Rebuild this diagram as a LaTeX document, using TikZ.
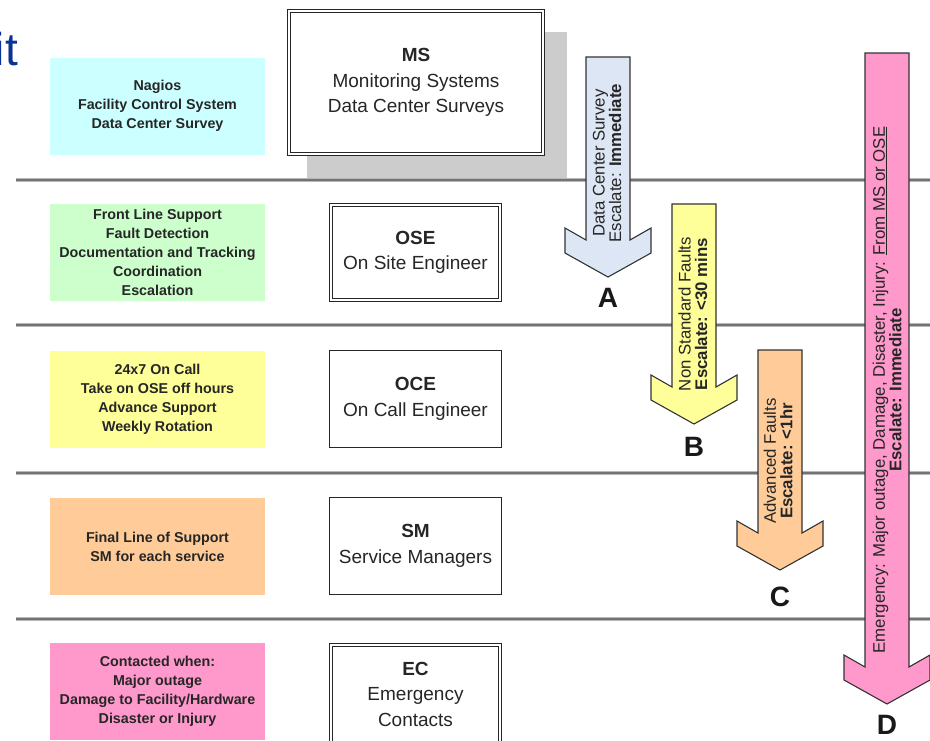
\documentclass[tikz,border=0pt]{standalone}
\usepackage{fontspec}
\setmainfont{Liberation Sans}
\definecolor{cMS}{RGB}{204,255,255}
\definecolor{cOSE}{RGB}{204,255,204}
\definecolor{cOCE}{RGB}{255,255,153}
\definecolor{cSM}{RGB}{255,204,153}
\definecolor{cEC}{RGB}{255,153,204}
\definecolor{cA}{RGB}{221,230,245}
\definecolor{titleblue}{RGB}{10,50,150}
\newcommand{\blockarr}[4]{%
  \draw[arrline, fill=#4] (#1-22,#2) -- (#1+22,#2) -- (#1+22,#3) -- (#1+43,#3-12) -- (#1+43,#3+13) -- (#1,#3+37) -- (#1-43,#3+13) -- (#1-43,#3-12) -- (#1-22,#3) -- cycle;}
\begin{document}
\begin{tikzpicture}[x=1pt,y=-1pt,
  sepline/.style={draw=black!28, line width=3.5pt},
  sepcore/.style={draw=black!55, line width=1.2pt},
  leftbox/.style={fill=#1, minimum width=215pt, minimum height=97pt, inner sep=0pt,
    font=\fontsize{14.3}{19}\selectfont\bfseries, align=center, text=black!85},
  rolebox/.style={draw=black!85, fill=white, line width=1.2pt, inner sep=0pt,
    font=\fontsize{19}{25.5}\selectfont, align=center, text=black!85},
  dbl/.style={double=white, double distance=2pt, line width=1pt},
  arrline/.style={draw=black!80, line width=1.1pt},
  arrtext/.style={rotate=90, inner sep=0pt, font=\fontsize{16.8}{16.5}\selectfont, align=center, text=black!85},
  letter/.style={inner sep=0pt, font=\fontsize{28}{30}\selectfont\bfseries, text=black!90}
]
\useasboundingbox (0,0) rectangle (930,740);
\fill[white] (0,0) rectangle (930,740);

% title fragment
\node[anchor=base east, inner sep=0pt, text=titleblue, font=\fontsize{46}{50}\selectfont] (title) at (18,65) {it};

% separator lines
\foreach \yy in {180,325,473,619} {
  \draw[sepline] (16,\yy) -- (930,\yy);
  \draw[sepcore] (16,\yy) -- (930,\yy);
}

% left description boxes
\node[leftbox=cMS] (dMS) at (157.5,106) {Nagios\\Facility Control System\\Data Center Survey};
\node[leftbox=cOSE] (dOSE) at (157.5,252.5) {Front Line Support\\Fault Detection\\Documentation and Tracking\\Coordination\\Escalation};
\node[leftbox=cOCE] (dOCE) at (157.5,399) {24x7 On Call\\Take on OSE off hours\\Advance Support\\Weekly Rotation};
\node[leftbox=cSM] (dSM) at (157.5,546.5) {Final Line of Support\\SM for each service};
\node[leftbox=cEC] (dEC) at (157.5,691.5) {Contacted when:\\Major outage\\Damage to Facility/Hardware\\Disaster or Injury};

% MS shadow and role boxes
\fill[black!20] (307,32) rectangle (567,178);
\node[rolebox, dbl, minimum width=254pt, minimum height=143pt] (MS) at (416,82.5) {\textbf{MS}\\Monitoring Systems\\Data Center Surveys};
\node[rolebox, dbl, minimum width=169pt, minimum height=95pt] (OSE) at (415.5,252.5) {\textbf{OSE}\\On Site Engineer};
\node[rolebox, minimum width=172pt, minimum height=97pt] (OCE) at (415.5,399) {\textbf{OCE}\\On Call Engineer};
\node[rolebox, minimum width=172pt, minimum height=97pt] (SM) at (415.5,546) {\textbf{SM}\\Service Managers};
\node[rolebox, dbl, minimum width=169pt, minimum height=98pt] (EC) at (415.5,694) {\textbf{EC}\\Emergency\\Contacts};

% escalation arrows
\blockarr{608}{57}{240}{cA}
\blockarr{694}{204}{387}{cOCE}
\blockarr{780}{350}{533}{cSM}
\blockarr{887}{53}{667}{cEC}

\node[arrtext] (tA) at (607,163) {Data Center Survey\\Escalate: \textbf{Immediate}};
\node[arrtext] (tB) at (693,314) {Non Standard Faults\\\textbf{Escalate: <30 mins}};
\node[arrtext] (tC) at (778,461) {Advanced Faults\\\textbf{Escalate: <1hr}};
\node[arrtext] (tD) at (887,390) {Emergency: Major outage, Damage, Disaster, Injury: \underline{From MS or OSE}\\\textbf{Escalate: Immediate}};

\node[letter] (lA) at (608,298) {A};
\node[letter] (lB) at (694,447) {B};
\node[letter] (lC) at (780,597) {C};
\node[letter] (lD) at (887,725) {D};
\end{tikzpicture}
\end{document}
